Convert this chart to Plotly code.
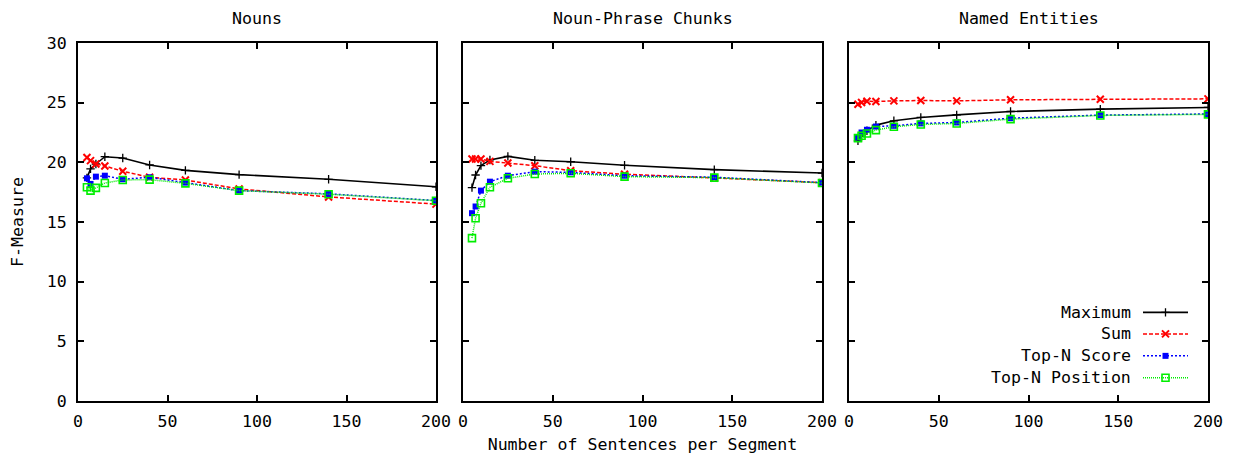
import plotly.graph_objects as go

# ---------------- data ----------------
sentences = [5, 7, 10, 15, 25, 40, 60, 90, 140, 200]
panel_titles = ["Nouns", "Noun-Phrase Chunks", "Named Entities"]
series_names = ["Maximum", "Sum", "Top-N Score", "Top-N Position"]

nouns_max = [18.7, 19.45, 19.86, 20.47, 20.36, 19.78, 19.33, 18.97, 18.58, 17.95]
nouns_sum = [20.4, 20.14, 19.86, 19.69, 19.25, 18.75, 18.52, 17.77, 17.1, 16.5]
nouns_score = [18.66, 18.19, 18.8, 18.88, 18.58, 18.75, 18.3, 17.63, 17.36, 16.8]
nouns_pos = [17.91, 17.63, 17.86, 18.27, 18.52, 18.55, 18.24, 17.63, 17.33, 16.78]

np_max = [17.88, 18.94, 19.72, 20.2, 20.5, 20.17, 20.05, 19.75, 19.39, 19.1]
np_sum = [20.28, 20.28, 20.28, 20.08, 19.94, 19.72, 19.3, 19.0, 18.69, 18.3]
np_score = [15.74, 16.3, 17.63, 18.38, 18.88, 19.22, 19.16, 18.88, 18.75, 18.3]
np_pos = [13.65, 15.32, 16.57, 17.91, 18.66, 19.02, 19.08, 18.8, 18.72, 18.27]

ne_max = [21.8, 22.2, 22.65, 23.12, 23.48, 23.76, 23.98, 24.26, 24.46, 24.6]
ne_sum = [24.87, 25.01, 25.12, 25.1, 25.15, 25.18, 25.15, 25.24, 25.28, 25.32]
ne_score = [22.09, 22.5, 22.73, 23.0, 23.06, 23.26, 23.34, 23.7, 23.96, 24.05]
ne_pos = [22.03, 22.23, 22.42, 22.7, 22.98, 23.17, 23.26, 23.62, 23.93, 24.02]

panels = [
    [nouns_max, nouns_sum, nouns_score, nouns_pos],
    [np_max, np_sum, np_score, np_pos],
    [ne_max, ne_sum, ne_score, ne_pos],
]

x_ticks = [0, 50, 100, 150, 200]
y_ticks = [0, 5, 10, 15, 20, 25, 30]

# ---------------- styles ----------------
FONT = "DejaVu Sans Mono"
FS = 16.6
styles = [
    dict(line=dict(color="#000000", width=1.6, dash="solid"),
         marker=dict(symbol="cross-thin-open", size=6, color="#000000",
                     line=dict(color="#000000", width=1.3))),
    dict(line=dict(color="#ff0000", width=1.5, dash="4px,2px"),
         marker=dict(symbol="x-thin-open", size=7, color="#ff0000",
                     line=dict(color="#ff0000", width=2))),
    dict(line=dict(color="#0000ff", width=1.5, dash="2px,2px"),
         marker=dict(symbol="square", size=6, color="#0000ff", line=dict(width=0))),
    dict(line=dict(color="#00ee00", width=1.5, dash="1px,1px"),
         marker=dict(symbol="square-open", size=7, color="#00ee00",
                     line=dict(color="#00ee00", width=1.6))),
]

W, H = 1239, 455
ML, MR, MT, MB = 78, 31, 42.5, 54
PW = W - ML - MR
domains = [
    [0, (436 - ML) / PW],
    [(463 - ML) / PW, (822 - ML) / PW],
    [(849 - ML) / PW, 1.0],
]

fig = go.Figure()

for p, series in enumerate(panels):
    xa = "x" if p == 0 else f"x{p + 1}"
    ya = "y" if p == 0 else f"y{p + 1}"
    for s, vals in enumerate(series):
        st = styles[s]
        fig.add_trace(go.Scatter(
            x=sentences, y=vals, mode="lines+markers", name=series_names[s],
            line=st["line"], marker=st["marker"], xaxis=xa, yaxis=ya,
            showlegend=False, cliponaxis=True,
        ))

axis_common = dict(
    showline=True, linecolor="black", linewidth=2, mirror="ticks",
    ticks="inside", ticklen=6, tickwidth=1.5, tickcolor="black",
    showgrid=False, zeroline=False, automargin=False,
    tickfont=dict(family=FONT, size=FS, color="black"),
)

layout = dict(
    width=W, height=H, autosize=False,
    margin=dict(l=ML, r=MR, t=MT, b=MB, autoexpand=False),
    paper_bgcolor="white", plot_bgcolor="rgba(0,0,0,0)",
    font=dict(family=FONT, size=FS, color="black"),
    showlegend=False,
)
for p in range(3):
    xk = "xaxis" if p == 0 else f"xaxis{p + 1}"
    yk = "yaxis" if p == 0 else f"yaxis{p + 1}"
    xa = "x" if p == 0 else f"x{p + 1}"
    ya = "y" if p == 0 else f"y{p + 1}"
    layout[xk] = dict(axis_common, domain=domains[p], range=[0, 200], tickvals=x_ticks,
                      anchor=ya, ticklabelstandoff=4)
    layout[yk] = dict(axis_common, domain=[0, 1], range=[0, 30], tickvals=y_ticks,
                      anchor=xa, showticklabels=(p == 0), ticklabelstandoff=6)

layout["xaxis2"]["title"] = dict(text="Number of Sentences per Segment",
                                 font=dict(family=FONT, size=FS), standoff=8)
layout["yaxis"]["title"] = dict(text="F-Measure", font=dict(family=FONT, size=FS), standoff=19)

# overlay axes (pixel-like frame) for the gnuplot-style key
layout["xaxis4"] = dict(domain=[0, 1], range=[ML, W - MR], visible=False, anchor="y4", fixedrange=True)
layout["yaxis4"] = dict(domain=[0, 1], range=[MB, H - MT], visible=False, anchor="x4", fixedrange=True)

fig.update_layout(**layout)

annotations = []
for p, t in enumerate(panel_titles):
    cx = (domains[p][0] + domains[p][1]) / 2
    annotations.append(dict(text=t, x=cx, xref="paper", y=1, yref="paper",
                            xanchor="center", yanchor="middle", yshift=24.5,
                            showarrow=False, font=dict(family=FONT, size=FS, color="black")))

# key
key_rows = [312.3, 333.8, 355.8, 377.7]
text_right = 1132.5
line_x0, line_x1, mark_x = 1143, 1188, 1165.5
for s, name in enumerate(series_names):
    yy = H - key_rows[s]
    annotations.append(dict(text=name, x=text_right, y=yy, xref="x4", yref="y4",
                            xanchor="right", yanchor="middle", showarrow=False,
                            font=dict(family=FONT, size=FS, color="black")))
    st = styles[s]
    fig.add_trace(go.Scatter(x=[line_x0, line_x1], y=[yy, yy], mode="lines",
                             line=st["line"], xaxis="x4", yaxis="y4",
                             showlegend=False, hoverinfo="skip"))
    fig.add_trace(go.Scatter(x=[mark_x], y=[yy], mode="markers",
                             marker=st["marker"], xaxis="x4", yaxis="y4",
                             showlegend=False, hoverinfo="skip"))

fig.update_layout(annotations=annotations)
fig.write_html("out.html")
